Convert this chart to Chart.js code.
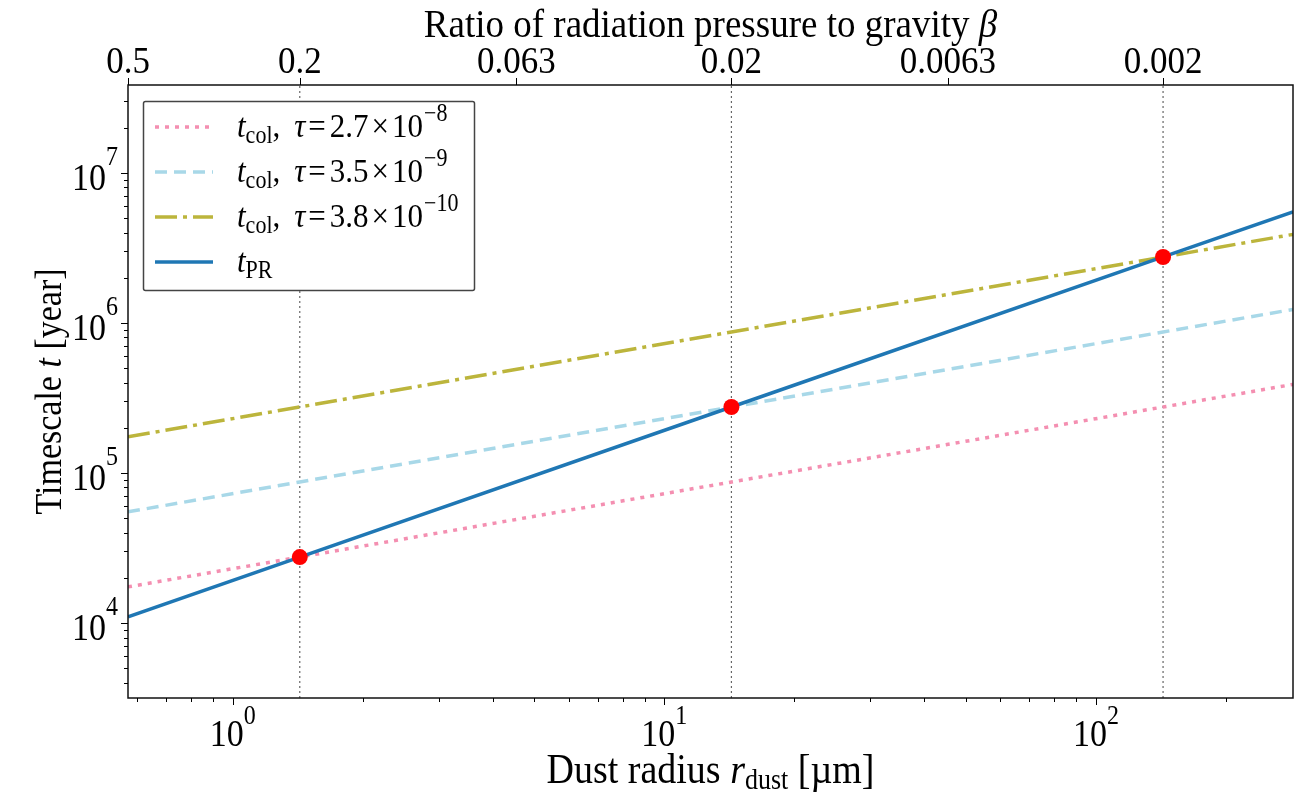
<!DOCTYPE html>
<html>
<head>
<meta charset="utf-8">
<script src="https://cdn.jsdelivr.net/npm/chart.js@4"></script>
<style>
  body { margin: 0; background: #fff; }
  #c { display: block; }
</style>
</head>
<body>
<canvas id="c" width="1294" height="795"></canvas>
<script>
// dust radius in micron, read at the axis edges and at the three crossings
const radius = [0.572, 1.43, 14.3, 143, 286];
const tPR = [1.1e4, 2.75e4, 2.75e5, 2.75e6, 5.5e6];
const tColA = [1.74e4, 2.75e4, 8.7e4, 2.75e5, 3.89e5];   // tau = 2.7e-8
const tColB = [5.5e4, 8.7e4, 2.75e5, 8.7e5, 1.23e6];     // tau = 3.5e-9
const tColC = [1.74e5, 2.75e5, 8.7e5, 2.75e6, 3.89e6];   // tau = 3.8e-10

// crossing points (red dots) and vertical guides
const crossR = [1.43, 14.3, 143];
const crossT = [2.75e4, 2.75e5, 2.75e6];

// axes
const X_MIN = 0.572, X_MAX = 286;
const Y_MIN = 3162, Y_MAX = 3.85e7;
const xMajor = [1, 10, 100];
const xMajorExp = ['0', '1', '2'];
const yMajor = [1e4, 1e5, 1e6, 1e7];
const yMajorExp = ['4', '5', '6', '7'];
const betaR = [0.572, 1.43, 4.54, 14.3, 45.4, 143];
const betaLabels = ['0.5', '0.2', '0.063', '0.02', '0.0063', '0.002'];

const legendItems = [
  { tau: '2.7', exp: '\u22128', color: '#f48fb1', dash: [4, 6] },
  { tau: '3.5', exp: '\u22129', color: '#a8d8e8', dash: [12, 7] },
  { tau: '3.8', exp: '\u221210', color: '#bcb53c', dash: [22, 6, 4, 6] },
  { pr: true, color: '#1f77b4', dash: [] }
];

const FONT = '"Liberation Serif", "Times New Roman", serif';
const SY = 1.1; // the reference text is a bit taller than wide

function pts(xs, ys) {
  return xs.map((x, i) => ({ x: x, y: ys[i] }));
}

function minorTicks(lo, hi) {
  const out = [];
  for (let d = Math.floor(Math.log10(lo)); d <= Math.ceil(Math.log10(hi)); d++) {
    for (let k = 2; k <= 9; k++) {
      const v = k * Math.pow(10, d);
      if (v >= lo && v <= hi) out.push(v);
    }
  }
  return out;
}

// draw a run of text pieces (font changes, sub/superscripts)
function drawRuns(ctx, x, y, runs, align, rotate) {
  let w = 0;
  runs.forEach(r => { ctx.font = r.font; w += ctx.measureText(r.t).width + (r.gap || 0); });
  ctx.save();
  ctx.translate(x, y);
  if (rotate) ctx.rotate(-Math.PI / 2);
  ctx.scale(1, SY);
  let cx = align === 'center' ? -w / 2 : (align === 'right' ? -w : 0);
  ctx.fillStyle = '#000';
  ctx.textBaseline = 'alphabetic';
  ctx.textAlign = 'left';
  runs.forEach(r => {
    ctx.font = r.font;
    ctx.fillText(r.t, cx, (r.dy || 0) / SY);
    cx += ctx.measureText(r.t).width + (r.gap || 0);
  });
  ctx.restore();
}

const rm = s => s + 'px ' + FONT;
const it = s => 'italic ' + s + 'px ' + FONT;

const decorations = {
  id: 'decorations',
  afterDatasetsDraw(chart) {
    const ctx = chart.ctx;
    // legend
    const lx = 143, ly = 101, lw = 331, lh = 189;
    ctx.save();
    ctx.fillStyle = '#fff';
    ctx.strokeStyle = '#444';
    ctx.lineWidth = 1.5;
    ctx.beginPath();
    ctx.roundRect(lx + 0.5, ly + 0.5, lw, lh, 2);
    ctx.fill();
    ctx.stroke();
    legendItems.forEach((item, i) => {
      const rowY = 127 + i * 45;
      ctx.strokeStyle = item.color;
      ctx.lineWidth = 3.5;
      ctx.setLineDash(item.dash);
      ctx.beginPath();
      ctx.moveTo(155, rowY);
      ctx.lineTo(213, rowY);
      ctx.stroke();
      ctx.setLineDash([]);
      if (item.pr) {
        drawRuns(ctx, 237, rowY + 10, [
          { t: 't', font: it(31) },
          { t: 'PR', font: rm(22), dy: 6 }
        ], 'left');
      } else {
        drawRuns(ctx, 237, rowY + 10, [
          { t: 't', font: it(31) },
          { t: 'col', font: rm(22), dy: 6 },
          { t: ',', font: rm(31), gap: 14 },
          { t: '\u03c4', font: it(31), gap: 3 },
          { t: '=', font: rm(31), gap: 4 },
          { t: item.tau, font: rm(31), gap: 3 },
          { t: '\u00d7', font: rm(31), gap: 3 },
          { t: '10', font: rm(31), gap: 1 },
          { t: item.exp, font: rm(22), dy: -16 }
        ], 'left');
      }
    });
    ctx.restore();
  },
  afterDraw(chart) {
    const ctx = chart.ctx;
    const a = chart.chartArea;
    const xs = chart.scales.x, ys = chart.scales.y;
    ctx.save();
    // frame
    ctx.strokeStyle = '#111';
    ctx.lineWidth = 1.5;
    ctx.strokeRect(a.left, a.top, a.right - a.left, a.bottom - a.top);
    // ticks
    ctx.lineWidth = 1;
    ctx.strokeStyle = '#000';
    const tick = (x1, y1, x2, y2) => { ctx.beginPath(); ctx.moveTo(x1, y1); ctx.lineTo(x2, y2); ctx.stroke(); };
    minorTicks(X_MIN, X_MAX).forEach(v => {
      const p = Math.round(xs.getPixelForValue(v)) + 0.5;
      tick(p, a.bottom, p, a.bottom + 4);
    });
    xMajor.forEach(v => {
      const p = Math.round(xs.getPixelForValue(v)) + 0.5;
      tick(p, a.bottom, p, a.bottom + 7);
    });
    minorTicks(Y_MIN, Y_MAX).forEach(v => {
      const p = Math.round(ys.getPixelForValue(v)) + 0.5;
      tick(a.left, p, a.left - 4, p);
    });
    yMajor.forEach(v => {
      const p = Math.round(ys.getPixelForValue(v)) + 0.5;
      tick(a.left, p, a.left - 7, p);
    });
    betaR.forEach(v => {
      const p = Math.round(xs.getPixelForValue(v)) + 0.5;
      tick(p, a.top, p, a.top - 7);
    });
    ctx.restore();

    // tick labels
    xMajor.forEach((v, i) => {
      drawRuns(ctx, xs.getPixelForValue(v), a.bottom + 48, [
        { t: '10', font: rm(34) },
        { t: xMajorExp[i], font: rm(24), dy: -22 }
      ], 'center');
    });
    yMajor.forEach((v, i) => {
      drawRuns(ctx, a.left - 10, ys.getPixelForValue(v) + 17, [
        { t: '10', font: rm(34) },
        { t: yMajorExp[i], font: rm(24), dy: -25 }
      ], 'right');
    });
    betaR.forEach((v, i) => {
      drawRuns(ctx, xs.getPixelForValue(v), 73, [{ t: betaLabels[i], font: rm(35) }], 'center');
    });

    // axis titles
    const cx = (a.left + a.right) / 2;
    drawRuns(ctx, cx, 37, [
      { t: 'Ratio of radiation pressure to gravity ', font: rm(37) },
      { t: '\u03b2', font: it(37) }
    ], 'center');
    drawRuns(ctx, cx, 783, [
      { t: 'Dust radius ', font: rm(38) },
      { t: 'r', font: it(38) },
      { t: 'dust', font: rm(26), dy: 6 },
      { t: ' [\u00b5m]', font: rm(38) }
    ], 'center');
    drawRuns(ctx, 61, (a.top + a.bottom) / 2, [
      { t: 'Timescale ', font: rm(34) },
      { t: 't', font: it(34) },
      { t: ' [year]', font: rm(34) }
    ], 'center', true);
  }
};

const guideSets = crossR.map(r => ({
  data: [{ x: r, y: Y_MIN }, { x: r, y: Y_MAX }],
  showLine: true,
  borderColor: '#666',
  borderWidth: 1.2,
  borderDash: [2, 3],
  pointRadius: 0,
  order: 10
}));

function curve(ys, color, dash, order) {
  return {
    data: pts(radius, ys),
    showLine: true,
    borderColor: color,
    borderWidth: 3.5,
    borderDash: dash,
    pointRadius: 0,
    order: order
  };
}

new Chart(document.getElementById('c'), {
  type: 'scatter',
  data: {
    datasets: [
      {
        data: pts(crossR, crossT),
        showLine: false,
        pointRadius: 8,
        backgroundColor: '#ff0000',
        borderWidth: 0,
        order: 0
      },
      curve(tPR, legendItems[3].color, [], 1),
      curve(tColC, legendItems[2].color, legendItems[2].dash, 2),
      curve(tColB, legendItems[1].color, legendItems[1].dash, 3),
      curve(tColA, legendItems[0].color, legendItems[0].dash, 4),
      ...guideSets
    ]
  },
  options: {
    responsive: false,
    animation: false,
    devicePixelRatio: 1,
    layout: { autoPadding: false, padding: { left: 128, top: 85, right: 1, bottom: 97 } },
    plugins: { legend: { display: false }, tooltip: { enabled: false } },
    scales: {
      x: { type: 'logarithmic', min: X_MIN, max: X_MAX, display: false },
      y: { type: 'logarithmic', min: Y_MIN, max: Y_MAX, display: false }
    }
  },
  plugins: [decorations]
});
</script>
</body>
</html>
